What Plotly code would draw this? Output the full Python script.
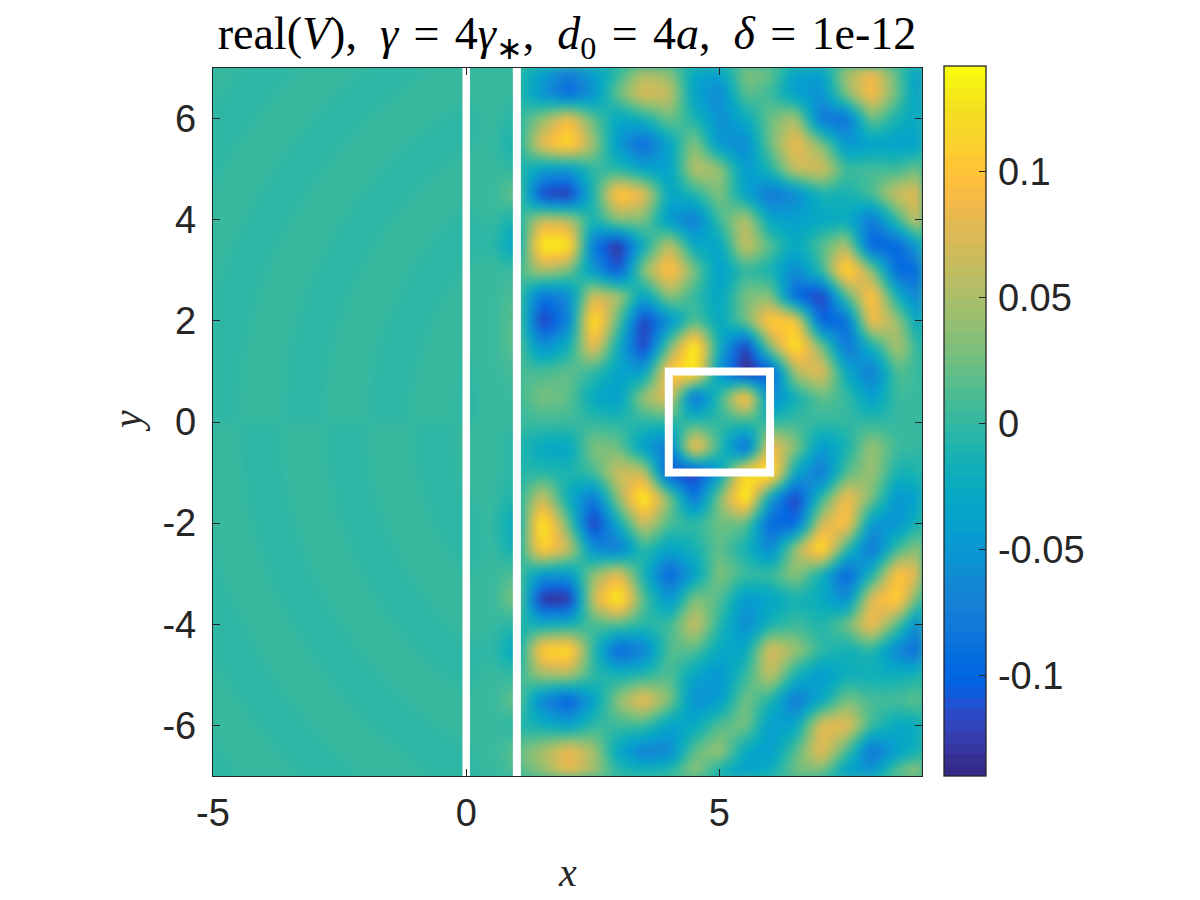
import plotly.graph_objects as go
import numpy as np

# grid positions
x_grid = [-5, -4.5, -4, -3.5, -3, -2.5, -2, -1.5, -1, -0.5, 0, 0.5, 1, 1.5, 2, 2.5, 3, 3.5, 4, 4.5, 5, 5.5, 6, 6.5, 7, 7.5, 8, 8.5, 9]
y_grid = [7, 6.5, 6, 5.5, 5, 4.5, 4, 3.5, 3, 2.5, 2, 1.5, 1, 0.5, 0, -0.5, -1, -1.5, -2, -2.5, -3, -3.5, -4, -4.5, -5, -5.5, -6, -6.5, -7]

# values, in thousandths
v_y_7p0  = [ 2.9, 0.1,-2.1,-1.2, 1.4, 2.3,-0.3,-2.6,-1.1, 0.6, 2.0, 2,    0, -35, -70, -40,  -5,  45,  30, -30, -35,  35,  25, -35, -40,  50,  85,  15, -60]
v_y_6p5  = [ 1.0,-1.8,-1.3, 1.3, 2.1,-0.5,-2.9,-0.8, 1.4, 2.6, 0.8, 2,    0, -55,-100, -55,  25,  80,  65, -40, -65,  20,   5, -45, -55,  35, 100,  20, -55]
v_y_6p0  = [-1.1,-2.1, 0.9, 2.3,-0.3,-3.0,-0.3, 2.0, 1.8,-0.3,-2.3, 2,   -5,  40,  95,  20, -35, -20,  25, -10, -60, -30,  25,  55, -85, -90,  25, -15, -35]
v_y_5p5  = [-2.9, 0.0, 3.0, 0.1,-2.7,-0.5, 2.1, 1.5,-1.0,-2.7,-0.7, 1,  -15,  85, 125,  45, -50,-100, -35,  40, -50, -65,  25,  90,  35, -50, -40, -40, -40]
v_y_5p0  = [-1.1, 1.9, 1.0,-2.0,-1.1, 1.7, 1.5,-1.0,-2.3, 0.0, 2.2, 2,    0, -40, -50,   0,  -5, -35, -40,  60,  45, -50, -10,  65,  75,   5,  10,   5,  30]
v_y_4p5  = [ 0.6, 2.3,-0.8,-2.2, 0.7, 2.5,-0.7,-2.5, 0.1, 2.6, 1.0, 3,   25,-125,-135, -10, 115,  85, -35, -10,  35, -35, -85, -65, -15, -15,  10,  70,  85]
v_y_4p0  = [ 2.2, 0.7,-2.6,-0.2, 2.8, 0.2,-2.8,-0.2, 2.6, 0.7,-1.8, 1,  -15,  70,  60, -15,  35,  30, -50, -80,   5,  60, -35, -40, -30, -25, -85,   0,  85]
v_y_3p5  = [ 2.4,-0.8,-1.8, 1.4, 1.5,-1.7,-1.2, 1.8, 1.2,-1.5,-2.0,-1,  -40, 140, 135, -85,-140, -25,  65, -30, -35,  70,  15, -30,  15,  55,-105,-100, -30]
v_y_3p0  = [ 1.2,-2.1,-0.4, 2.8, 0.0,-2.6, 0.6, 2.3,-0.8,-2.5, 0.4, 2,    5,  55,  30, -50,-115,  40, 110,  30, -45,   0, -15, -65,   0, 130,  40,-100, -95]
v_y_2p5  = [ 0.1,-2.8, 0.8, 1.9,-1.4,-1.2, 2.1, 0.8,-2.5,-0.5, 2.6, 2,   15, -90, -65,  75,  55, -40,  40,   0, -35,  30,  35,-100,-130,  10, 110, -20, -85]
v_y_2p0  = [-0.8,-1.8, 1.8, 0.8,-2.5, 0.1, 2.6,-0.7,-2.1, 1.1, 1.7, 3,   20,-130, -75, 140,  15,-130, -60,  15, -30,  25, 115, 105,-105, -95,  95,  45, -50]
v_y_1p5  = [-1.5,-1.1, 2.5, 0.0,-2.5, 1.0, 1.5,-1.8,-0.9, 2.4, 0.2, 3,   20, -60, -20,  90, -25,-130,  25, 145, -25,-130,  40, 135,  30, -90, -20,  55, -15]
v_y_1p0  = [-1.9,-0.5, 2.9,-0.6,-1.9, 1.7, 0.8,-2.7, 0.0, 2.5,-0.9, 2,   10,  10,  20,   0, -35, -45, 105, 140, -55,-145,-110,  55,  85, -30, -80,  15,   0]
v_y_0p5  = [-2.2,-0.2, 2.5,-0.9,-1.5, 2.2, 0.3,-3.0, 0.6, 1.9,-1.6, 2,    5,  30,  20, -30, -45,  45,  85,-100,   0, 120, -70, -20,  20,   5, -45,   5,   5]
v_y_0p0  = [ 0.0, 0.0, 0.0, 0.0, 0.0, 0.0, 0.0, 0.0, 0.0, 0.0, 0.0, 0,    2,   5,   5,   0,  -5,  -5,  -5,   0,   0,   0,   0,   5,   0,   0,   0,   0,   0]
v_y_m0p5 = [ 2.2, 0.2,-2.5, 0.9, 1.5,-2.2,-0.3, 3.0,-0.6,-1.9, 1.6, 2,   -5, -30, -35,  35,  25, -45, -85, 110,   0,-105,  95,  35, -50, -15,  45,   5,   0]
v_y_m1p0 = [ 1.9, 0.5,-2.9, 0.6, 1.9,-1.7,-0.8, 2.7, 0.0,-2.5, 0.9, 2,   -5,  -5, -10,   5,  70,  70,-115,-130, -45, 125, 140, -35, -85,  15,  45, -15, -10]
v_y_m1p5 = [ 1.5, 1.1,-2.5, 0.0, 2.5,-1.0,-1.5, 1.8, 0.9,-2.4,-0.2, 1,  -10,  70, -25, -85,  40, 145,  35, -90,  35, 145, -45,-130,   0,  95,  30, -55, -35]
v_y_m2p0 = [ 0.8, 1.8,-1.8,-0.8, 2.5,-0.1,-2.6, 0.7, 2.1,-1.1,-1.7, 1,  -30, 140,  20,-135, -25,  70,  10,   0,  25,  20,-100,-100,  70, 105, -50, -55,  -5]
v_y_m2p5 = [-0.1, 2.8,-0.8,-1.9, 1.4, 1.2,-2.1,-0.8, 2.5, 0.5,-2.6, 1,  -20, 120,  70, -60, -85,   0, -35, -15,  20, -15, -70,  45, 135,   0, -90,   5,  45]
v_y_m3p0 = [-1.2, 2.1, 0.4,-2.8, 0.0, 2.6,-0.6,-2.3, 0.8, 2.5,-0.4, 2,   15, -50, -50,  40,  85, -15,-105, -40,  35,   5,   5,  40, -20,-105, -15, 105,  70]
v_y_m3p5 = [-2.4, 0.8, 1.8,-1.4,-1.5, 1.7, 1.2,-1.8,-1.2, 1.5, 2.0, 3,   35,-140,-140,  70, 145,  15, -55,  35,  15, -50, -35, -15, -25, -65,  80, 115,   0]
v_y_m4p0 = [-2.2,-0.7, 2.6, 0.2,-2.8,-0.2, 2.8, 0.2,-2.6,-0.7, 1.8, 1,   -5, -25, -20,  10,  15,  -5,   5,  70,  -5, -65, -15,   5, -10,  25,  95,  15, -85]
v_y_m4p5 = [-0.6,-2.3, 0.8, 2.2,-0.7,-2.5, 0.7, 2.5,-0.1,-2.6,-1.0,-1,  -35, 115, 130,  -5,-105, -75,  15,  15, -30, -30,  80,  45,   0, -20,  -5, -70,-100]
v_y_m5p0 = [ 1.1,-1.9,-1.0, 2.0, 1.1,-1.7,-1.5, 1.0, 2.3, 0.0,-2.2, 2,    0,  45,  50,   0, -15,  -5,  15, -35, -55,   0,  65, -15, -50, -20, -20, -20, -10]
v_y_m5p5 = [ 2.9, 0.0,-3.0,-0.1, 2.7, 0.5,-2.1,-1.5, 1.0, 2.7, 0.7, 3,   25, -70,-110, -40,  40,  90,  35, -60, -45,  30, -10, -85, -30,  30,  10,  10,  25]
v_y_m6p0 = [ 1.1, 2.1,-0.9,-2.3, 0.3, 3.0, 0.3,-2.0,-1.8, 0.3, 2.3, 1,   -5, -20, -40,   0,   5,   5, -40, -30,  15,  30, -45, -35,  80,  85,   5, -30, -25]
v_y_m6p5 = [-1.0, 1.8, 1.3,-1.3,-2.1, 0.5, 2.9, 0.8,-1.4,-2.6,-0.8, 2,   20,  50,  90,  50, -35, -75, -65,  20,  45, -30, -45,  15,  85,  10, -90, -40, -10]
v_y_m7p0 = [-2.9,-0.1, 2.1, 1.2,-1.4,-2.3, 0.3, 2.6, 1.1,-0.6,-2.0, 2,   10,  35,  80,  45,   5,   0,  10,  45, -30, -45, -15,  30,  15, -55, -45,  35,  65]

v_rows = [v_y_7p0, v_y_6p5, v_y_6p0, v_y_5p5, v_y_5p0, v_y_4p5, v_y_4p0, v_y_3p5, v_y_3p0, v_y_2p5,
          v_y_2p0, v_y_1p5, v_y_1p0, v_y_0p5, v_y_0p0, v_y_m0p5, v_y_m1p0, v_y_m1p5, v_y_m2p0, v_y_m2p5,
          v_y_m3p0, v_y_m3p5, v_y_m4p0, v_y_m4p5, v_y_m5p0, v_y_m5p5, v_y_m6p0, v_y_m6p5, v_y_m7p0]

# white screens and box
screen_a_x = [0, 0]
screen_b_x = [1, 1]
screen_y = [-7, 7]
box_x = [4, 6, 6, 4, 4, 6]
box_y = [-1, -1, 1, 1, -1, -1]

cbar_tickvals = [-0.1, -0.05, 0, 0.05, 0.1]
cbar_ticktext = ["\u200a-0.1", "\u200a-0.05", "\u200a0", "\u200a0.05", "\u200a0.1"]
x_ticks = [-5, 0, 5]
x_labels = ["-5", "0", "5"]
y_ticks = [-6, -4, -2, 0, 2, 4, 6]
y_labels = ["-6", "-4", "-2", "0", "2", "4", "6"]

parula = """0.2081 0.1663 0.5292;0.2116 0.1898 0.5777;0.2123 0.2138 0.6270;0.2081 0.2386 0.6771;0.1959 0.2645 0.7279;0.1707 0.2919 0.7792;0.1253 0.3242 0.8303;0.0591 0.3598 0.8683;0.0117 0.3875 0.8820;0.0060 0.4086 0.8828;0.0165 0.4266 0.8786;0.0329 0.4430 0.8720;0.0498 0.4586 0.8641;0.0629 0.4737 0.8554;0.0723 0.4887 0.8467;0.0779 0.5040 0.8384;0.0793 0.5200 0.8312;0.0749 0.5375 0.8263;0.0641 0.5570 0.8240;0.0488 0.5772 0.8228;0.0343 0.5966 0.8199;0.0265 0.6137 0.8135;0.0239 0.6287 0.8038;0.0231 0.6418 0.7913;0.0228 0.6535 0.7768;0.0267 0.6642 0.7607;0.0384 0.6743 0.7436;0.0590 0.6838 0.7254;0.0843 0.6928 0.7062;0.1133 0.7015 0.6859;0.1453 0.7098 0.6646;0.1801 0.7177 0.6424;0.2178 0.7250 0.6193;0.2586 0.7317 0.5954;0.3022 0.7376 0.5712;0.3482 0.7424 0.5473;0.3953 0.7459 0.5244;0.4420 0.7481 0.5033;0.4871 0.7491 0.4840;0.5300 0.7491 0.4661;0.5709 0.7485 0.4494;0.6099 0.7473 0.4337;0.6473 0.7456 0.4188;0.6834 0.7435 0.4044;0.7184 0.7411 0.3905;0.7525 0.7384 0.3768;0.7858 0.7356 0.3633;0.8185 0.7327 0.3498;0.8507 0.7299 0.3360;0.8824 0.7274 0.3217;0.9139 0.7258 0.3063;0.9450 0.7261 0.2886;0.9739 0.7314 0.2666;0.9938 0.7455 0.2403;0.9990 0.7653 0.2164;0.9955 0.7861 0.1967;0.9880 0.8066 0.1794;0.9789 0.8271 0.1633;0.9697 0.8481 0.1475;0.9626 0.8705 0.1309;0.9589 0.8949 0.1132;0.9598 0.9218 0.0948;0.9661 0.9514 0.0755;0.9763 0.9831 0.0538"""
cols = [tuple(int(round(float(v) * 255)) for v in s.split()) for s in parula.split(";")]
# 64 flat colour bands, with the band edge nearest zero placed on zero
edges = [i / 64 for i in range(65)]
edges[32] = 0.14 / 0.282
colorscale = []
for i, c in enumerate(cols):
    colorscale.append([edges[i], f"rgb{c}"])
    colorscale.append([edges[i + 1], f"rgb{c}"])

INK = "#262626"
W, H = 1200, 900
L, R, T, B = 213, 922, 68, 776
FS = 38

fig = go.Figure()
fig.add_trace(go.Heatmap(
    x=x_grid, y=y_grid, z=np.array(v_rows) / 1000, zsmooth="best",
    colorscale=colorscale, zmin=-0.14, zmax=0.142,
    colorbar=dict(
        x=(944 - L) / (R - L), xanchor="left",
        y=0, yanchor="bottom", lenmode="pixels", len=710,
        thicknessmode="pixels", thickness=42,
        tickvals=cbar_tickvals, ticktext=cbar_ticktext,
        ticks="inside", ticklen=7, tickcolor=INK, tickwidth=1,
        outlinecolor=INK, outlinewidth=1.3, xpad=0, ypad=0,
        tickfont=dict(family="Liberation Sans", size=FS, color=INK),
    ),
))
line = dict(color="white", width=8)
fig.add_trace(go.Scatter(x=screen_a_x, y=screen_y, mode="lines", line=dict(color="white", width=7.5), showlegend=False, hoverinfo="skip"))
fig.add_trace(go.Scatter(x=screen_b_x, y=screen_y, mode="lines", line=line, showlegend=False, hoverinfo="skip"))
fig.add_trace(go.Scatter(x=box_x, y=box_y, mode="lines", line=line, showlegend=False, hoverinfo="skip"))

axis = dict(showgrid=False, zeroline=False, showline=True, mirror="allticks",
            ticks="inside", ticklen=7, tickwidth=1, tickcolor=INK,
            linecolor=INK, linewidth=1.3, automargin=False,
            tickfont=dict(family="Liberation Sans", size=FS, color=INK))
sp = "\u00a0"
eq = "\u200a = \u200a"
fig.update_layout(
    width=W, height=H, paper_bgcolor="white", plot_bgcolor="rgb(50,184,162)", showlegend=False,
    margin=dict(l=L, r=W - R, t=T, b=H - B),
    title=dict(
        text=f"real(<i>V</i>),{sp} <i>γ</i>{eq}4<i>γ</i><sub>∗</sub>,{sp} <i>d</i><sub>0</sub>{eq}4<i>a</i>,{sp} <i>δ</i>{eq}1e-12",
        x=567 / W, xanchor="center", y=1 - 33 / H, yanchor="middle",
        font=dict(family="Liberation Serif", size=46, color="black"),
    ),
    xaxis=dict(axis, range=[-5, 9], tickvals=x_ticks, ticktext=x_labels, ticklabelstandoff=3),
    yaxis=dict(axis, range=[-7, 7], tickvals=y_ticks, ticktext=y_labels, ticklabelstandoff=8),
    annotations=[
        dict(text="<i>x</i>", xref="paper", yref="paper", x=(567 - L) / (R - L), y=-(872 - B) / (B - T),
             showarrow=False, xanchor="center", yanchor="middle",
             font=dict(family="Liberation Serif", size=40, color=INK)),
        dict(text="<i>y</i>", xref="paper", yref="paper", x=-(L - 127) / (R - L), y=(B - 421) / (B - T),
             showarrow=False, xanchor="center", yanchor="middle", textangle=-90,
             font=dict(family="Liberation Serif", size=40, color=INK)),
    ],
)
# soften the bilinear facets of the coarse grid when the image is painted
soft = "document.body.style.margin='0';document.querySelectorAll('.hm image').forEach(function(e){e.style.filter='blur(5px)';});"
fig.write_html("out.html", post_script=soft, config={"displayModeBar": False})
